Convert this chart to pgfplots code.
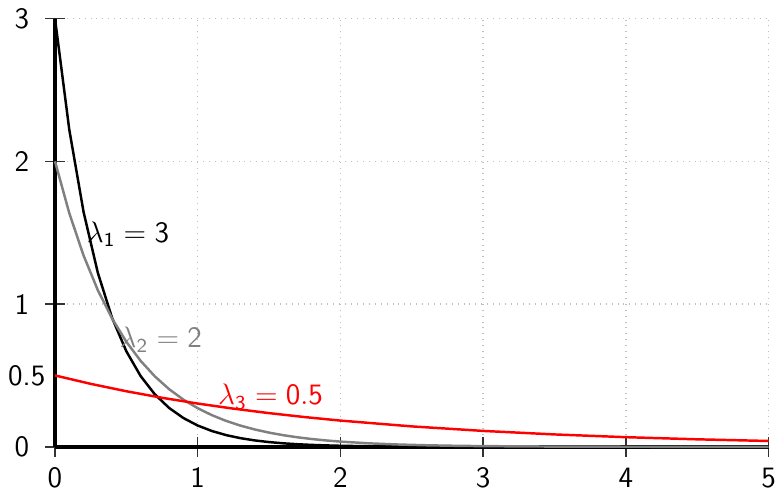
\documentclass[border=0pt]{standalone}
\usepackage{pgfplots}
\pgfplotsset{compat=1.18}
\begin{document}
\begin{tikzpicture}
\begin{axis}[
  scale only axis,
  width=289.2pt, height=173.6pt,
  xmin=0, xmax=5, ymin=0, ymax=3,
  axis lines=left,
  axis line style={-, line width=1.6pt, black},
  xtick={0,1,2,3,4,5},
  ytick={0,1,2,3},
  extra y ticks={0.5},
  extra y tick style={grid=none, major tick style={draw=none}, yticklabel shift=-3.6pt},
  tick align=center,
  major tick length=8pt,
  tick style={black!80, line width=0.6pt},
  grid=major,
  major grid style={dotted, gray!50, line width=0.6pt},
  /pgf/number format/assume math mode=true,
  ticklabel style={font=\sffamily\large},
  yticklabel shift=2.9pt,
  xticklabel shift=1pt,
  clip=false,
]
\addplot[black, line width=1pt] coordinates {
(0,3) (0.1,2.22245) (0.2,1.64644) (0.3,1.21971) (0.4,0.90358) (0.5,0.66939)
(0.6,0.49590) (0.7,0.36737) (0.8,0.27215) (0.9,0.20162) (1.0,0.14936)
(1.1,0.11065) (1.2,0.08197) (1.3,0.06073) (1.4,0.04499) (1.5,0.03333)
(1.6,0.02469) (1.7,0.01829) (1.8,0.01355) (1.9,0.01004) (2.0,0.00744)
(2.2,0.00408) (2.4,0.00224) (2.6,0.00123) (2.8,0.00068) (3.0,0.00037)
(4.0,0.00002) (5.0,0)
};
\addplot[gray, line width=1pt] coordinates {
(0,2) (0.1,1.63746) (0.2,1.34064) (0.3,1.09762) (0.4,0.89866) (0.5,0.73576)
(0.6,0.60239) (0.7,0.49319) (0.8,0.40379) (0.9,0.33060) (1.0,0.27067)
(1.1,0.22161) (1.2,0.18144) (1.3,0.14855) (1.4,0.12162) (1.5,0.09957)
(1.6,0.08152) (1.7,0.06675) (1.8,0.05465) (1.9,0.04474) (2.0,0.03663)
(2.2,0.02455) (2.4,0.01646) (2.6,0.01103) (2.8,0.00740) (3.0,0.00496)
(3.5,0.00182) (4.0,0.00067) (4.5,0.00025) (5.0,0.00009)
};
\addplot[red, line width=1pt] coordinates {
(0,0.5) (0.25,0.44125) (0.5,0.38940) (0.75,0.34364) (1.0,0.30327)
(1.25,0.26763) (1.5,0.23618) (1.75,0.20843) (2.0,0.18394) (2.5,0.14325)
(3.0,0.11157) (3.5,0.08689) (4.0,0.06767) (4.5,0.05270) (5.0,0.04104)
};
\node[anchor=west, inner sep=0pt, font=\large] at (axis cs:0.22,1.49) {$\lambda_{\mathsf{1}} = \mathsf{3}$};
\node[anchor=west, inner sep=0pt, font=\large, text=gray] at (axis cs:0.45,0.75) {$\lambda_{\mathsf{2}} = \mathsf{2}$};
\node[anchor=west, inner sep=0pt, font=\large, text=red] at (axis cs:1.14,0.35) {$\lambda_{\mathsf{3}} = \mathsf{0.5}$};
\end{axis}
\end{tikzpicture}
\end{document}
